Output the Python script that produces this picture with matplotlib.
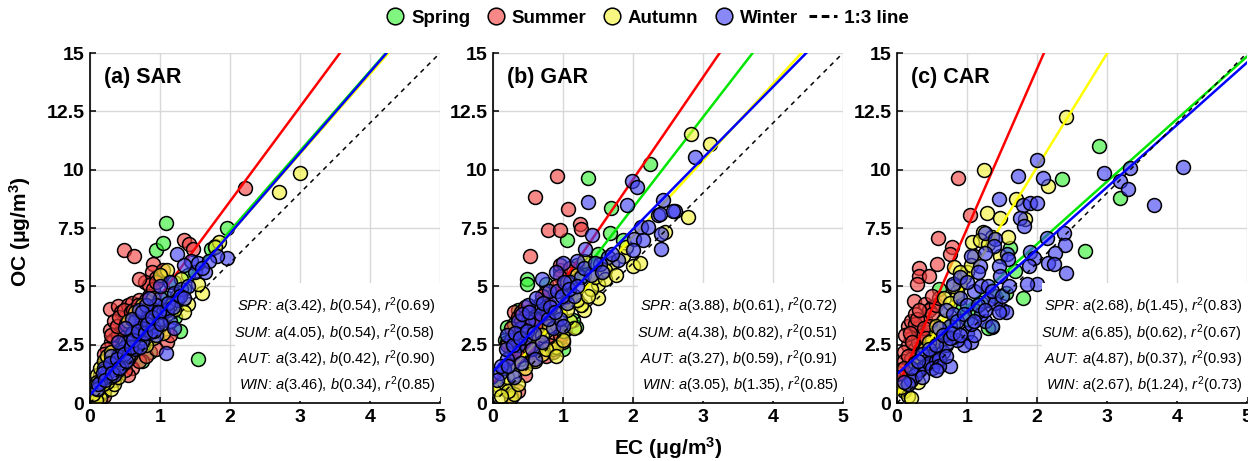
import numpy as np
import matplotlib.pyplot as plt
from matplotlib.patches import Rectangle
from matplotlib.lines import Line2D

plt.rcParams['font.family'] = ['Liberation Sans', 'DejaVu Sans']
plt.rcParams['mathtext.fontset'] = 'custom'
plt.rcParams['mathtext.rm'] = 'Liberation Sans'
plt.rcParams['mathtext.it'] = 'Liberation Sans:italic'
plt.rcParams['mathtext.bf'] = 'Liberation Sans:bold'

seasons = ['Spring', 'Summer', 'Autumn', 'Winter']
tags = ['SPR', 'SUM', 'AUT', 'WIN']
colors = [(0.0, 0.9, 0.0), (1.0, 0.0, 0.0), (1.0, 1.0, 0.0), (0.0, 0.0, 1.0)]
point_colors = [(0.2, 0.95, 0.2), (0.95, 0.25, 0.25), (0.95, 0.95, 0.2), (0.25, 0.25, 0.95)]

panels = ['(a) SAR', '(b) GAR', '(c) CAR']

# fitted OC = a*EC + b
sar_a = [3.42, 4.05, 3.42, 3.46]
sar_b = [0.54, 0.54, 0.42, 0.34]
sar_r2 = [0.69, 0.58, 0.90, 0.85]
gar_a = [3.88, 4.38, 3.27, 3.05]
gar_b = [0.61, 0.82, 0.59, 1.35]
gar_r2 = [0.72, 0.51, 0.91, 0.85]
car_a = [2.68, 6.85, 4.87, 2.67]
car_b = [1.45, 0.62, 0.37, 1.24]
car_r2 = [0.83, 0.67, 0.93, 0.73]

# (EC, OC) pairs
sar_spring = [(1.08, 7.7), (0.94, 6.55), (1.05, 6.85), (1.96, 7.5), (1.73, 6.6), (1.78, 6.75),
              (1.29, 3.1), (1.54, 1.9), (1.22, 3.7), (0.86, 2.2), (0.8, 3.1), (0.5, 2.0),
              (0.7, 2.6), (0.6, 2.4), (0.3, 1.5), (0.2, 1.0), (0.45, 1.9), (1.0, 4.2),
              (1.1, 4.5), (0.95, 3.6), (1.35, 4.9), (0.65, 3.0), (0.15, 0.6), (0.4, 1.6),
              (1.2, 5.2), (0.75, 1.8), (1.4, 5.5), (0.55, 2.8)]
sar_summer = [(2.22, 9.2), (0.49, 6.55), (0.63, 6.3), (1.35, 7.0), (1.42, 6.8), (1.47, 6.6),
              (0.9, 5.95), (0.88, 5.6), (0.95, 5.35), (0.78, 5.2), (0.85, 5.05), (0.7, 5.3),
              (0.29, 4.05), (0.4, 4.15), (0.29, 3.15), (0.35, 2.75), (0.3, 2.6), (0.45, 3.9),
              (0.55, 4.2), (0.6, 4.3), (0.5, 3.7), (0.7, 4.4), (0.75, 4.0), (0.65, 3.6),
              (0.55, 3.3), (0.45, 3.1), (0.4, 2.9), (0.85, 4.6), (1.0, 5.4), (1.05, 5.7),
              (0.25, 2.3), (0.2, 1.8), (0.15, 1.2), (0.1, 0.5), (0.05, 0.2), (0.12, 0.1),
              (0.6, 1.5), (0.55, 1.2), (0.7, 1.8), (0.8, 2.0), (1.1, 2.6), (1.15, 2.9),
              (0.95, 2.3), (0.35, 1.0), (0.5, 1.4), (0.35, 3.5),
              (0.2, 2.1), (0.25, 1.6), (0.3, 2.9), (0.38, 3.3), (0.42, 3.7), (0.48, 4.0),
              (0.52, 3.4), (0.58, 3.9), (0.62, 4.0), (0.68, 4.2), (0.72, 3.7), (0.8, 4.4),
              (0.9, 4.9), (0.95, 5.2), (0.15, 0.15), (0.2, 0.3)]
sar_autumn = [(3.0, 9.85), (2.7, 9.05), (1.85, 6.9), (1.6, 4.7), (1.4, 4.25), (1.35, 3.9),
              (1.78, 6.7), (1.1, 5.7), (1.0, 5.5), (1.3, 5.3), (1.55, 5.1), (0.9, 4.5),
              (0.75, 4.2), (0.65, 3.9), (0.55, 3.5), (0.85, 3.3), (1.2, 4.0), (0.1, 1.2),
              (0.15, 1.5), (0.2, 1.8), (0.25, 2.0), (0.1, 0.9), (0.05, 0.7), (0.1, 0.3),
              (0.15, 0.4), (0.2, 0.5), (0.3, 0.6), (0.35, 0.8), (0.2, 1.0), (0.3, 1.3),
              (0.25, 0.9), (0.4, 1.1), (0.45, 2.3), (0.5, 2.6), (0.6, 2.9), (0.7, 3.2),
              (0.35, 1.7), (0.3, 2.2), (1.05, 3.0), (0.9, 2.8), (0.8, 2.5), (0.55, 1.9),
              (0.15, 0.2), (0.08, 0.15), (1.25, 4.6), (0.95, 3.9),
              (0.05, 0.4), (0.12, 0.6), (0.18, 0.8), (0.22, 1.4), (0.28, 1.1), (0.4, 1.4),
              (0.48, 1.7), (0.58, 2.1), (0.62, 2.4), (0.68, 2.6), (0.72, 2.8), (0.78, 3.0),
              (1.0, 3.5), (1.1, 3.8), (1.15, 4.2), (0.85, 3.6)]
sar_winter = [(1.08, 2.15), (1.96, 6.2), (1.82, 6.3), (1.25, 6.4), (1.45, 6.1), (1.5, 5.6),
              (1.65, 5.6), (1.55, 6.0), (1.7, 6.1), (1.35, 5.9), (1.15, 5.2), (1.2, 4.7),
              (1.0, 4.5), (0.95, 4.2), (0.9, 3.9), (0.8, 3.6), (0.75, 3.2), (0.7, 2.9),
              (0.65, 3.5), (0.6, 3.0), (0.55, 2.6), (0.5, 2.4), (0.45, 2.2), (0.4, 2.0),
              (0.35, 1.7), (0.3, 1.5), (0.25, 1.3), (0.2, 1.1), (0.15, 0.9), (0.85, 3.0),
              (0.9, 3.3), (1.0, 3.6), (1.05, 3.9), (1.1, 4.0), (1.25, 4.4), (1.3, 4.9),
              (0.7, 4.0), (0.6, 3.6), (0.8, 4.2), (0.5, 3.2), (0.4, 2.6), (0.55, 2.0),
              (0.65, 2.3), (0.75, 2.6), (0.95, 2.9), (1.15, 3.5), (0.3, 2.0), (0.2, 1.5),
              (0.45, 1.6), (0.35, 1.2), (1.4, 5.0), (1.6, 5.8), (1.0, 5.0), (0.85, 4.5),
              (0.75, 3.9), (1.2, 3.2),
              (0.1, 0.6), (0.12, 0.8), (0.18, 1.3), (0.22, 1.0), (0.28, 1.7), (0.32, 1.3),
              (0.38, 1.9), (0.42, 1.5), (0.48, 2.1), (0.52, 1.8), (0.58, 2.4), (0.62, 2.7),
              (0.68, 3.1), (0.72, 2.4), (0.78, 3.0), (0.82, 3.4), (0.88, 3.7), (0.92, 3.1),
              (0.98, 3.9), (1.02, 3.4), (1.12, 4.3), (1.18, 4.1), (1.28, 4.6), (1.35, 4.5)]

gar_spring = [(1.36, 9.65), (2.24, 10.25), (1.69, 8.35), (1.67, 7.3), (1.05, 7.0), (1.5, 6.4),
              (0.48, 5.33), (0.48, 5.1), (0.2, 3.26), (0.17, 2.7), (1.03, 3.12), (1.19, 3.24),
              (1.0, 2.31), (0.35, 4.0), (0.3, 2.9), (0.45, 3.1), (0.25, 2.2), (0.6, 4.1),
              (0.7, 4.4), (0.85, 3.7), (0.9, 3.4), (1.14, 3.55), (1.3, 5.5), (1.4, 6.0),
              (0.55, 2.5), (0.4, 1.9), (0.15, 1.5), (0.75, 5.1), (1.2, 5.9), (1.85, 7.0),
              (0.3, 3.4), (0.2, 2.6), (0.45, 3.5), (0.5, 2.2), (0.65, 3.0), (0.75, 4.0),
              (0.95, 2.8)]
gar_summer = [(0.91, 9.75), (0.6, 8.85), (1.07, 8.3), (0.79, 7.4), (0.96, 7.4), (1.24, 7.66),
              (1.26, 7.47), (0.53, 6.3), (0.96, 5.7), (0.95, 5.9), (0.74, 4.7), (0.95, 5.45),
              (0.3, 3.9), (0.35, 3.7), (0.4, 3.5), (0.5, 3.0), (0.6, 2.9), (0.7, 4.6),
              (0.55, 4.0), (0.9, 2.7), (0.75, 2.0), (0.85, 2.2), (0.45, 1.2), (0.25, 0.3),
              (0.35, 0.5), (0.6, 2.2), (0.5, 2.7), (0.3, 1.8), (0.2, 2.5), (0.4, 2.2),
              (0.65, 3.5), (0.8, 4.2), (1.0, 5.0), (1.1, 5.8), (0.9, 5.0), (0.7, 3.2),
              (0.55, 1.8), (0.95, 2.9), (0.4, 3.9), (0.45, 4.1),
              (0.25, 3.2), (0.3, 2.6), (0.45, 3.7), (0.5, 2.4), (0.65, 2.8), (0.75, 3.7),
              (0.8, 2.5), (0.92, 3.3), (1.0, 2.6), (1.05, 4.4), (0.35, 2.0), (0.55, 3.6)]
gar_autumn = [(2.83, 11.55), (3.1, 11.1), (2.79, 7.97), (2.45, 7.33), (2.0, 5.88), (2.1, 6.0),
              (0.25, 0.2), (0.3, 0.4), (0.1, 0.7), (0.05, 0.6), (0.15, 0.9), (0.2, 1.1),
              (0.3, 1.2), (0.22, 0.5), (0.12, 0.3), (0.35, 0.8), (0.85, 2.3), (0.9, 2.4),
              (1.0, 3.1), (1.1, 3.5), (1.3, 4.0), (1.25, 4.2), (1.5, 4.5), (1.5, 5.1),
              (1.7, 6.0), (1.85, 6.3), (1.9, 6.7), (1.1, 4.6), (1.2, 5.5), (1.3, 6.1),
              (0.6, 1.8), (0.7, 2.1), (0.95, 3.8), (1.05, 5.2), (0.55, 2.9), (0.45, 1.5),
              (1.6, 5.7), (1.4, 4.9), (0.8, 3.3), (1.05, 4.0),
              (0.7, 2.9), (0.75, 2.3), (0.9, 2.0), (1.0, 2.7), (1.15, 3.2), (1.2, 4.4),
              (1.35, 4.6), (1.45, 5.4), (1.6, 5.3), (1.75, 5.5)]
gar_winter = [(1.35, 8.6), (1.98, 9.5), (2.06, 9.25), (1.91, 8.47), (2.43, 8.68), (2.6, 8.25),
              (2.35, 8.04), (2.38, 8.11), (2.57, 8.25), (2.4, 7.26), (2.4, 6.6), (2.12, 7.54),
              (2.21, 7.54), (2.02, 7.04), (2.14, 6.97), (2.0, 6.54), (2.88, 10.55), (1.41, 7.2),
              (1.31, 6.62), (1.64, 6.26), (1.79, 6.12), (1.53, 5.97), (1.2, 6.1), (1.0, 6.0),
              (1.1, 5.2), (1.25, 5.4), (0.9, 4.4), (0.8, 4.8), (0.7, 5.3), (0.75, 4.0),
              (0.6, 3.6), (0.65, 4.2), (0.5, 3.5), (0.45, 2.8), (0.4, 3.2), (0.35, 2.5),
              (0.3, 2.2), (0.25, 2.7), (0.2, 1.9), (0.15, 1.5), (0.1, 1.3), (0.3, 1.1),
              (0.4, 1.7), (0.55, 2.3), (0.7, 2.6), (0.85, 3.2), (0.95, 3.6), (1.05, 4.3),
              (1.15, 4.6), (0.5, 4.2), (0.35, 3.5), (0.2, 2.9), (0.6, 1.9), (1.4, 5.5),
              (0.9, 5.6), (1.0, 3.3),
              (0.05, 1.0), (0.12, 1.6), (0.18, 2.3), (0.22, 1.6), (0.28, 2.5), (0.32, 3.0),
              (0.38, 2.8), (0.42, 3.8), (0.48, 3.1), (0.52, 3.9), (0.58, 3.0), (0.62, 4.5),
              (0.68, 3.8), (0.72, 4.3), (0.78, 3.6), (0.82, 4.1), (0.88, 3.9), (0.92, 4.8),
              (0.98, 4.6), (1.02, 5.2), (1.08, 4.9), (1.2, 5.0), (1.3, 5.8), (1.45, 6.0),
              (1.55, 5.6), (1.7, 6.4)]

car_spring = [(2.88, 11.0), (2.35, 9.6), (3.18, 8.8), (2.69, 6.52), (1.8, 4.48), (1.62, 6.66),
              (1.69, 5.66), (1.35, 3.24), (1.3, 3.2), (0.5, 2.3), (0.6, 2.7), (0.7, 2.9),
              (1.0, 3.6), (1.2, 4.3), (0.9, 4.1), (1.4, 4.6), (1.55, 4.7), (0.3, 1.8),
              (0.4, 2.0), (0.6, 4.9), (0.15, 1.3), (0.8, 3.4), (1.1, 4.0)]
car_summer = [(0.87, 9.66), (1.04, 8.05), (0.59, 7.09), (0.78, 6.7), (0.76, 6.38), (0.57, 5.95),
              (0.31, 5.8), (0.31, 5.45), (0.29, 5.09), (0.45, 5.45), (0.24, 4.38), (0.4, 4.24),
              (0.5, 4.1), (0.15, 3.3), (0.2, 3.5), (0.25, 3.8), (0.3, 3.2), (0.35, 3.0),
              (0.4, 3.6), (0.45, 4.0), (0.2, 2.8), (0.15, 2.5), (0.1, 2.2), (0.1, 1.8),
              (0.05, 1.4), (0.25, 2.3), (0.3, 2.6), (0.35, 2.9), (0.5, 3.8), (0.55, 4.2),
              (0.6, 4.5), (0.2, 1.9), (0.15, 2.0), (0.05, 0.9), (0.08, 0.6), (0.25, 3.4),
              (0.12, 2.9), (0.4, 2.4), (0.45, 3.3),
              (0.18, 3.0), (0.22, 2.6), (0.28, 3.6), (0.32, 4.0), (0.38, 3.2), (0.42, 2.8),
              (0.5, 4.6), (0.1, 1.5), (0.07, 1.1), (0.3, 2.0)]
car_autumn = [(2.42, 12.27), (1.24, 10.0), (2.16, 9.3), (1.7, 8.73), (1.28, 8.16), (1.47, 7.95),
              (1.83, 7.87), (1.23, 7.35), (1.35, 7.13), (1.59, 7.13), (1.07, 6.88), (1.19, 7.0),
              (1.47, 6.3), (0.81, 5.81), (0.9, 5.09), (0.86, 4.74), (0.67, 4.52), (0.1, 0.5),
              (0.15, 0.3), (0.2, 0.2), (0.05, 0.7), (0.2, 1.0), (0.3, 1.5), (0.35, 2.0),
              (0.4, 2.3), (0.5, 2.7), (0.55, 3.0), (0.6, 2.5), (0.3, 0.9), (0.15, 0.8),
              (0.25, 1.2), (0.45, 1.9), (0.65, 3.5), (0.7, 4.0), (0.85, 4.6), (0.95, 5.4),
              (1.0, 5.6), (1.1, 6.3), (1.3, 6.8),
              (0.25, 1.7), (0.4, 1.8), (0.45, 2.6), (0.55, 3.3), (0.75, 4.3), (0.8, 5.0),
              (0.9, 5.6), (1.05, 5.9)]
car_winter = [(2.0, 10.41), (1.73, 9.73), (2.09, 9.66), (3.33, 10.08), (4.09, 10.13), (2.96, 9.86),
              (3.18, 9.51), (3.3, 9.19), (3.67, 8.47), (1.45, 8.73), (1.8, 8.47), (1.9, 8.56),
              (2.0, 8.56), (1.76, 7.95), (1.82, 7.6), (2.14, 7.09), (2.38, 7.3), (2.4, 6.76),
              (2.26, 6.45), (2.15, 6.02), (2.24, 5.95), (2.42, 5.59), (1.9, 6.49), (1.95, 6.23),
              (1.88, 5.88), (2.0, 5.09), (1.85, 5.09), (1.26, 7.3), (1.4, 7.02), (1.38, 6.73),
              (1.26, 6.45), (1.57, 6.38), (1.59, 6.16), (1.05, 6.3), (1.19, 5.88), (1.45, 5.88),
              (1.47, 5.45), (0.7, 4.0), (0.8, 3.8), (0.9, 4.5), (1.0, 4.2), (1.1, 4.8),
              (1.2, 5.0), (1.3, 4.4), (1.5, 4.0), (1.55, 3.9), (1.0, 3.0), (1.05, 2.6),
              (0.95, 2.5), (1.1, 2.9), (0.85, 2.7), (0.75, 3.3), (0.6, 3.2), (0.65, 2.2),
              (0.5, 2.0), (0.4, 1.6), (0.35, 2.1), (0.3, 1.4), (0.25, 1.2), (0.2, 1.0),
              (0.45, 1.7), (0.55, 1.8), (0.75, 1.6), (0.6, 1.9), (0.15, 0.8), (1.25, 3.5),
              (1.35, 3.3), (1.4, 4.3), (0.8, 5.1), (0.9, 5.4), (1.0, 5.2), (1.15, 5.6),
              (1.3, 5.0), (1.2, 3.8), (0.7, 2.5),
              (0.1, 0.9), (0.2, 1.5), (0.3, 1.8), (0.35, 1.1), (0.45, 2.3), (0.5, 1.5),
              (0.55, 2.5), (0.6, 1.6), (0.65, 2.9), (0.7, 2.0), (0.75, 2.8), (0.8, 3.0),
              (0.85, 3.5), (0.9, 2.9), (0.95, 3.8), (1.05, 3.4), (1.1, 3.5), (1.15, 4.2),
              (1.25, 4.0), (1.35, 4.8), (1.45, 3.9), (1.5, 4.6), (1.6, 5.0), (0.55, 1.4)]

panel_points = [[sar_spring, sar_summer, sar_autumn, sar_winter],
                [gar_spring, gar_summer, gar_autumn, gar_winter],
                [car_spring, car_summer, car_autumn, car_winter]]
panel_a = [sar_a, gar_a, car_a]
panel_b = [sar_b, gar_b, car_b]
panel_r2 = [sar_r2, gar_r2, car_r2]

fig = plt.figure(figsize=(12.48, 4.61), dpi=100)
lefts = [90 / 1248, 493 / 1248, 897 / 1248]
for p in range(3):
    ax = fig.add_axes([lefts[p], 58 / 461, 350 / 1248, 350 / 461])
    xs_line = np.linspace(0, 5, 200)
    for k in range(4):
        pts = np.array(panel_points[p][k])
        fc = point_colors[k] + (0.62,)
        ax.scatter(pts[:, 0], pts[:, 1], s=100, facecolors=[fc], edgecolors='k',
                   linewidths=1.1, zorder=2 + k * 0.1)
        ax.plot(xs_line, panel_a[p][k] * xs_line + panel_b[p][k], color=colors[k],
                lw=1.8, zorder=2.05 + k * 0.1)
    ax.plot([0, 5], [0, 15], 'k--', lw=1.1, dashes=(3, 3), zorder=2.5)
    ax.set_xlim(0, 5)
    ax.set_ylim(0, 15)
    ax.set_xticks([0, 1, 2, 3, 4, 5])
    ax.set_yticks([0, 2.5, 5, 7.5, 10, 12.5, 15])
    ax.set_yticklabels(['0', '2.5', '5', '7.5', '10', '12.5', '15'])
    ax.grid(True, color='#d8d8d8', lw=1.0, zorder=0)
    ax.set_axisbelow(True)
    for s in ['top', 'right']:
        ax.spines[s].set_visible(False)
    for s in ['left', 'bottom']:
        ax.spines[s].set_linewidth(1.2)
        ax.spines[s].set_zorder(6)
    ax.tick_params(direction='in', length=4, width=1.1, labelsize=14, pad=4)
    for lab in ax.get_xticklabels() + ax.get_yticklabels():
        lab.set_fontweight('bold')
    ax.text(0.2, 13.7, panels[p], fontsize=15.5, fontweight='bold', zorder=7)
    ax.add_patch(Rectangle((0.414, 0.006), 0.586, 0.336, transform=ax.transAxes,
                           facecolor='white', edgecolor='none', zorder=5))
    for k in range(4):
        s = r'$%s$: $a$(%.2f), $b$(%.2f), $r^2$(%.2f)' % (tags[k], panel_a[p][k],
                                                         panel_b[p][k], panel_r2[p][k])
        ax.text(4.93, [4.15, 3.0, 1.88, 0.77][k], s, fontsize=10.5, ha='right',
                va='center', zorder=7)

fig.text(20 / 1248, 1 - 232 / 461, r'OC ($\mathbf{\mu}$g/m$^\mathbf{3}$)', rotation=90,
         fontsize=15, fontweight='bold', ha='center', va='center')
fig.text(668 / 1248, 1 - 448 / 461, r'EC ($\mathbf{\mu}$g/m$^\mathbf{3}$)',
         fontsize=15, fontweight='bold', ha='center', va='center')

handles = [Line2D([], [], marker='o', ls='none', markersize=12, markerfacecolor=point_colors[k] + (0.62,),
                  markeredgecolor='k', markeredgewidth=1.1) for k in range(4)]
handles.append(Line2D([], [], color='k', ls='--', lw=2.2, dashes=(2.5, 1.5)))
fig.legend(handles, seasons + [' 1:3 line'], loc='center', bbox_to_anchor=(645 / 1248, 1 - 18 / 461),
           ncol=5, frameon=False, prop={'weight': 'bold', 'size': 13.5}, handletextpad=0.1,
           columnspacing=0.6, handlelength=1.5)

fig.savefig('out.png', dpi=100)
